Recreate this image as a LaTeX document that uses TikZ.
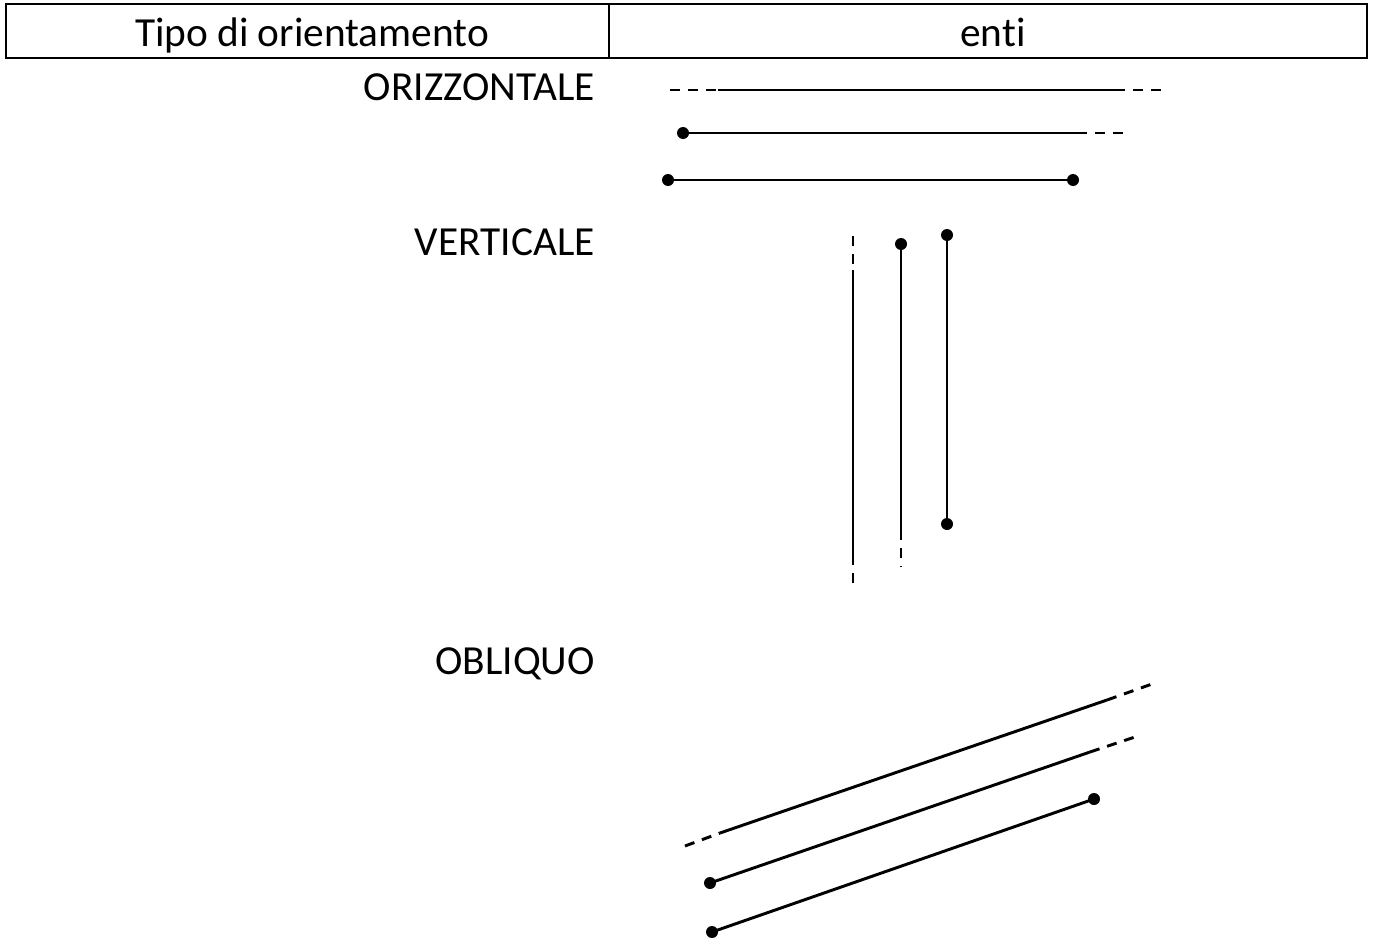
\documentclass[tikz,border=0pt]{standalone}
\usepackage{fontspec}
\setmainfont{Carlito}[Ligatures={NoCommon}]
\tikzset{
  px/.style={x=0.75pt,y=-0.75pt},
  frame/.style={line width=2pt},
  seg/.style={line width=2.2pt},
  ext/.style={line width=2.2pt,dash pattern=on 7.5pt off 6pt},
  lbl/.style={font=\fontsize{31}{36}\selectfont,inner sep=0pt},
  pt/.style={circle,fill=black,inner sep=0pt,minimum size=9pt}
}
\begin{document}
\begin{tikzpicture}[px]
\useasboundingbox (0,0) rectangle (1375,939);
% header table
\draw[frame] (6,4) rectangle (1367,58);
\draw[frame] (609,4) -- (609,58);
\node[lbl,anchor=base] (h1) at (312,46) {Tipo di orientamento};
\node[lbl,anchor=base] (h2) at (993,46) {enti};
% row labels
\node[lbl,anchor=base east] (lo) at (595,100) {ORIZZONTALE};
\node[lbl,anchor=base east] (lv) at (595,255) {VERTICALE};
\node[lbl,anchor=base east] (lq) at (595,674) {OBLIQUO};

% horizontal: line, ray, segment
\coordinate (r1a) at (670,90);  \coordinate (r1b) at (718,90);
\coordinate (r1c) at (1115,90); \coordinate (r1d) at (1165,90);
\draw[ext] (r1a) -- (r1b);
\draw[seg] (r1b) -- (r1c);
\draw[ext] (r1c) -- (r1d);
\node[pt] (r2a) at (683,133) {};
\coordinate (r2b) at (1077,133); \coordinate (r2c) at (1131,133);
\draw[seg] (r2a.center) -- (r2b);
\draw[ext] (r2b) -- (r2c);
\node[pt] (r3a) at (668,180) {};
\node[pt] (r3b) at (1073,180) {};
\draw[seg] (r3a.center) -- (r3b.center);

% vertical: line, ray, segment
\coordinate (v1a) at (853,236); \coordinate (v1b) at (853,270);
\coordinate (v1c) at (853,555); \coordinate (v1d) at (853,590);
\draw[ext] (v1a) -- (v1b);
\draw[seg] (v1b) -- (v1c);
\draw[ext] (v1c) -- (v1d);
\node[pt] (v2a) at (901,244) {};
\coordinate (v2b) at (901,530); \coordinate (v2c) at (901,567);
\draw[seg] (v2a.center) -- (v2b);
\draw[ext] (v2b) -- (v2c);
\node[pt] (v3a) at (947,235) {};
\node[pt] (v3b) at (947,524) {};
\draw[seg] (v3a.center) -- (v3b.center);

% oblique: line, ray, segment
\coordinate (o1a) at (685,846);  \coordinate (o1b) at (720,833);
\coordinate (o1c) at (1107,700); \coordinate (o1d) at (1152,684);
\draw[ext] (o1a) -- (o1b);
\draw[seg] (o1b) -- (o1c);
\draw[ext] (o1c) -- (o1d);
\node[pt] (o2a) at (710,883) {};
\coordinate (o2b) at (1090,752); \coordinate (o2c) at (1135,737);
\draw[seg] (o2a.center) -- (o2b);
\draw[ext] (o2b) -- (o2c);
\node[pt] (o3a) at (712,932) {};
\node[pt] (o3b) at (1094,799) {};
\draw[seg] (o3a.center) -- (o3b.center);
\end{tikzpicture}
\end{document}
